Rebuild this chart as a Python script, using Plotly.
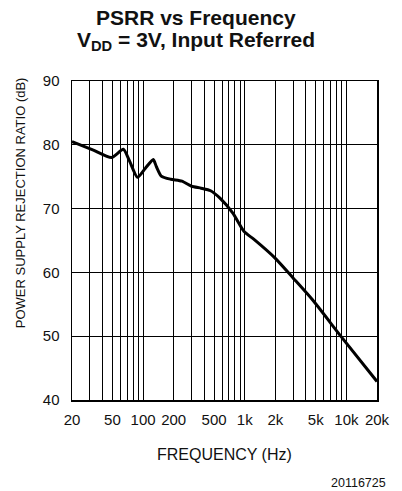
import plotly.graph_objects as go

# ---- data ----
freq_hz = [20, 32, 49, 64, 73, 88, 105, 126, 135, 151, 187, 241, 300, 372, 462,
           574, 764, 986, 1226, 2000, 3000, 4640, 8920, 20000]
psrr_db = [80.5, 79.2, 78.0, 79.3, 77.6, 74.9, 76.3, 77.7, 76.6, 75.1, 74.6, 74.3,
           73.5, 73.2, 72.8, 71.6, 69.3, 66.4, 65.2, 62.2, 59.1, 55.7, 49.9, 42.9]

x_grid_values = [20, 30, 40, 50, 60, 70, 80, 90,
                 100, 200, 300, 400, 500, 600, 700, 800, 900,
                 1000, 2000, 3000, 4000, 5000, 6000, 7000, 8000, 9000,
                 10000, 20000]
x_tick_values = [20, 50, 100, 200, 500, 1000, 2000, 5000, 10000, 20000]
x_tick_labels = ["20", "50", "100", "200", "500", "1k", "2k", "5k", "10k", "20k"]
y_tick_values = [40, 50, 60, 70, 80, 90]

title_line1 = "<b>PSRR vs Frequency</b>"
title_line2 = "<b>V<sub>DD</sub> = 3V, Input Referred</b>"
x_title = "FREQUENCY (Hz)"
y_title = "POWER SUPPLY REJECTION RATIO (dB)"
figure_id = "20116725"

FONT = "Liberation Sans, Arial, Helvetica, sans-serif"
TXT = "#111111"
W, H = 402, 491
ML, MR, MT, MB = 72, 12, 81, 91
PH = H - MT - MB
PW = W - ML - MR


def py(ypx):
    return (H - MB - ypx) / PH


def px(xpx):
    return (xpx - ML) / PW


fig = go.Figure()
fig.add_trace(go.Scatter(
    x=freq_hz, y=psrr_db, mode="lines",
    line=dict(color="black", width=3, shape="spline", smoothing=0.6),
    hoverinfo="skip", showlegend=False))

fig.update_layout(
    width=W, height=H,
    margin=dict(l=ML, r=MR, t=MT, b=MB, pad=0),
    paper_bgcolor="white", plot_bgcolor="white",
    font=dict(family=FONT, color=TXT),
    showlegend=False,
)

fig.update_xaxes(
    type="log", range=[1.30103, 4.30103],
    tickmode="array", tickvals=x_tick_values, ticktext=x_tick_labels,
    showgrid=True, gridcolor="black", gridwidth=1,
    minor=dict(tickmode="array", tickvals=x_grid_values, showgrid=True,
               gridcolor="black", gridwidth=1, ticks=""),
    showline=True, linecolor="black", linewidth=1.5, mirror=True,
    ticks="", tickfont=dict(size=15, family=FONT, color=TXT),
    ticklabelstandoff=5,
    zeroline=False,
)
fig.update_yaxes(
    range=[40, 90], tickmode="array", tickvals=y_tick_values,
    showgrid=True, gridcolor="black", gridwidth=1,
    showline=True, linecolor="black", linewidth=1.5, mirror=True,
    ticks="", tickfont=dict(size=15, family=FONT, color=TXT),
    ticklabelstandoff=8,
    zeroline=False,
)

ann = [
    dict(text=title_line1, x=px(W / 2), xref="paper", xanchor="center",
         y=py(18), yref="paper", yanchor="middle", showarrow=False,
         font=dict(size=21, family=FONT, color=TXT)),
    dict(text=title_line2, x=px(W / 2), xref="paper", xanchor="center",
         y=py(41), yref="paper", yanchor="middle", showarrow=False,
         font=dict(size=21, family=FONT, color=TXT)),
    dict(text=x_title, x=px(231), xref="paper", xanchor="center",
         y=py(454), yref="paper", yanchor="middle", showarrow=False,
         font=dict(size=16, family=FONT, color=TXT)),
    dict(text=y_title, x=px(18), xref="paper", xanchor="center",
         y=py(203), yref="paper", yanchor="middle", showarrow=False,
         textangle=-90, font=dict(size=13, family=FONT, color=TXT)),
    dict(text=figure_id, x=px(401), xref="paper", xanchor="right",
         y=py(483), yref="paper", yanchor="middle", showarrow=False,
         font=dict(size=12.5, family=FONT, color=TXT)),
]
fig.update_layout(annotations=ann)

fig.write_html("out.html",
               config={"displayModeBar": False, "staticPlot": True},
               post_script="document.body.style.margin='0';document.body.style.padding='0';")
